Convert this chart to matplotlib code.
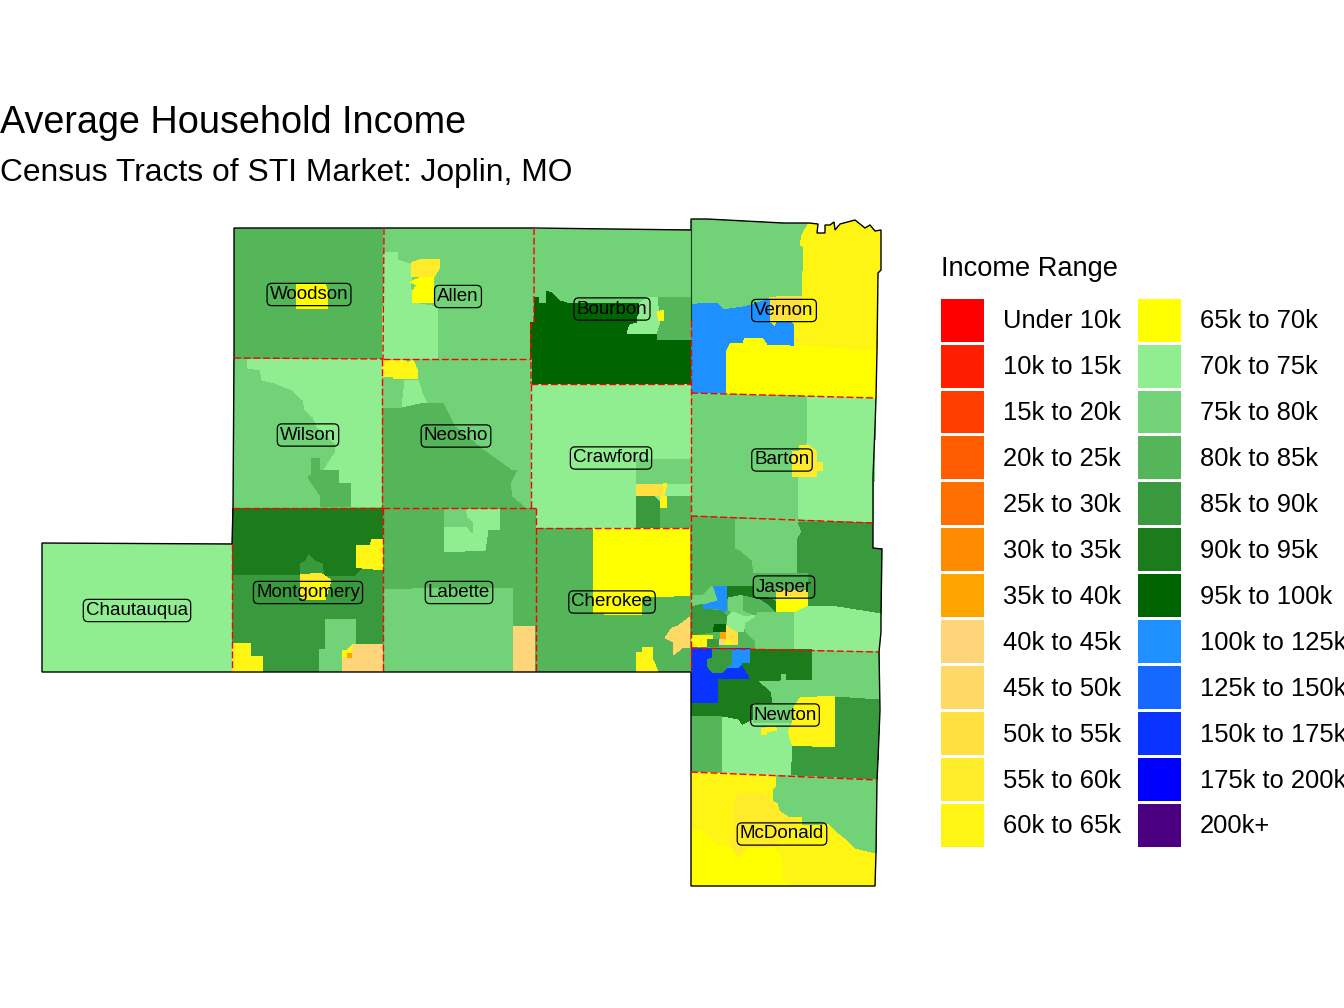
import matplotlib
matplotlib.use("Agg")
import matplotlib.pyplot as plt
from matplotlib.patches import Polygon, Patch

plt.rcParams['font.family'] = ['Liberation Sans', 'DejaVu Sans']

bin_labels = ["Under 10k", "10k to 15k", "15k to 20k", "20k to 25k", "25k to 30k", "30k to 35k",
              "35k to 40k", "40k to 45k", "45k to 50k", "50k to 55k", "55k to 60k", "60k to 65k",
              "65k to 70k", "70k to 75k", "75k to 80k", "80k to 85k", "85k to 90k", "90k to 95k",
              "95k to 100k", "100k to 125k", "125k to 150k", "150k to 175k", "175k to 200k", "200k+"]
bin_colors = ["#FF0000", "#FF1F00", "#FF3E00", "#FF5D00", "#FF6F00", "#FF8C00",
              "#FFA500", "#FFD57A", "#FFD966", "#FFE040", "#FFEB2A", "#FFF514",
              "#FFFF00", "#90EE90", "#72D277", "#55B559", "#39993D", "#1C7C1C",
              "#006400", "#1E90FF", "#1569FF", "#0A33FF", "#0000FF", "#4B0082"]
color_of = dict(zip(bin_labels, bin_colors))

chautauqua = [("70k to 75k", [(42,543),(232,544),(232,672),(42,672)])]
woodson = [
    ("80k to 85k", [(234,228),(384,228),(383,359),(234,358)]),
    ("65k to 70k", [(296,284),(325,284),(328,292),(328,308),(297,309)]),
]
allen = [
    ("75k to 80k", [(384,228),(534,228),(534,322),(531,323),(531,359),(383,359)]),
    ("70k to 75k", [(385,253),(397,252),(398,260),(412,265),(412,277),(410,282),(413,303),(438,307),(438,323),(437,359),(382,359),(384,253)]),
    ("55k to 60k", [(411,263),(422,259),(440,259),(440,267),(434,277),(422,277),(412,277)]),
    ("65k to 70k", [(422,277),(434,277),(434,303),(412,303),(412,292),(417,285),(410,282)]),
]
bourbon = [
    ("75k to 80k", [(534,229),(691,230),(691,384),(531,384),(531,323),(534,322)]),
    ("95k to 100k", [(530,323),(534,322),(534,297),(539,297),(539,303),(546,303),(546,291),(552,293),(560,301),(567,303),(640,303),(637,325),(627,332),(657,334),(657,340),(691,340),(691,384),(530,384)]),
    ("70k to 75k", [(648,297),(658,297),(661,322),(657,334),(627,333),(630,325),(637,323),(640,303)]),
    ("80k to 85k", [(658,297),(691,297),(691,340),(657,340),(657,334),(661,322)]),
    ("60k to 65k", [(657,312),(663,310),(664,321),(659,321)]),
]
vernon = [
    ("75k to 80k", [(691,219),(707,219),(783,223),(809,223),(809,300),(769,340),(691,393)]),
    ("60k to 65k", [(809,223),(818,224),(817,233),(825,233),(825,225),(830,225),(834,222),(835,230),(840,224),(855,220),(860,224),(865,228),(870,225),(875,231),(881,230),(881,270),(878,273),(877,350),(858,350),(858,353),(847,349),(813,347),(794,346),(794,325),(790,322),(777,322),(775,327),(770,323),(769,298),(783,296),(802,296),(804,247),(800,245),(802,235)]),
    ("50k to 55k", [(769,298),(783,296),(802,296),(802,320),(770,320)]),
    ("100k to 125k", [(692,305),(703,303),(717,303),(723,310),(743,307),(752,305),(769,299),(770,323),(775,327),(777,322),(790,322),(794,325),(794,346),(775,345),(767,345),(762,338),(745,338),(743,343),(730,344),(727,350),(726,393),(691,393)]),
    ("65k to 70k", [(730,344),(743,343),(745,338),(762,338),(767,345),(813,347),(847,349),(858,353),(858,350),(877,350),(877,357),(876,398),(847,397),(803,395),(770,395),(726,393),(727,350)]),
]
wilson = [
    ("75k to 80k", [(234,359),(382,359),(382,508),(233,508)]),
    ("70k to 75k", [(247,360),(248,368),(260,370),(262,380),(275,383),(292,390),(303,400),(305,410),(313,417),(317,427),(335,443),(335,453),(324,470),(339,470),(339,483),(351,483),(351,507),(382,507),(382,359)]),
    ("80k to 85k", [(311,458),(320,458),(320,470),(339,470),(339,483),(351,483),(351,507),(320,507),(320,495),(313,485),(308,477),(311,475)]),
]
neosho = [
    ("75k to 80k", [(382,359),(532,359),(531,508),(382,508)]),
    ("60k to 65k", [(382,360),(405,360),(408,363),(413,360),(418,372),(418,379),(393,379),(393,377),(382,377)]),
    ("70k to 75k", [(405,380),(418,380),(422,393),(427,403),(402,408)]),
    ("80k to 85k", [(382,408),(402,408),(425,403),(443,403),(450,417),(455,427),(483,450),(511,470),(517,470),(510,483),(512,497),(525,508),(382,508)]),
]
crawford = [
    ("70k to 75k", [(531,384),(691,384),(691,528),(536,528),(536,508),(531,508)]),
    ("75k to 80k", [(636,459),(691,459),(691,484),(667,484),(636,484)]),
    ("50k to 55k", [(636,484),(667,484),(664,496),(636,496)]),
    ("85k to 90k", [(636,496),(654,496),(660,503),(660,528),(636,528)]),
    ("80k to 85k", [(660,496),(691,496),(691,528),(660,528)]),
    ("60k to 65k", [(661,496),(667,496),(666,508),(660,508)]),
    ("60k to 65k", [(663,483),(667,483),(664,493)]),
]
montgomery = [
    ("85k to 90k", [(233,508),(383,508),(383,672),(232,672)]),
    ("90k to 95k", [(232,508),(383,508),(383,539),(372,539),(370,545),(356,545),(356,568),(362,568),(353,576),(325,576),(323,563),(315,560),(308,553),(305,560),(300,563),(300,575),(232,575)]),
    ("60k to 65k", [(356,545),(370,545),(372,539),(384,539),(384,570),(362,568),(356,568)]),
    ("55k to 60k", [(300,575),(320,573),(331,580),(325,600),(307,600),(300,597)]),
    ("65k to 70k", [(311,580),(325,580),(325,600),(311,600)]),
    ("75k to 80k", [(325,619),(356,619),(356,645),(347,650),(342,650),(342,672),(319,672),(319,649),(325,649)]),
    ("40k to 45k", [(353,644),(383,645),(383,672),(342,672),(343,658),(351,657)]),
    ("60k to 65k", [(342,650),(347,650),(353,644),(351,657),(343,658)]),
    ("35k to 40k", [(347,653),(352,653),(351,658),(348,658)]),
    ("60k to 65k", [(232,643),(251,643),(251,656),(263,656),(263,672),(232,672)]),
]
labette = [
    ("80k to 85k", [(383,508),(536,508),(536,672),(383,672)]),
    ("75k to 80k", [(384,589),(412,589),(425,588),(513,588),(513,672),(384,672)]),
    ("40k to 45k", [(513,626),(535,626),(535,672),(513,672)]),
    ("70k to 75k", [(465,509),(500,509),(500,530),(488,530),(485,550),(445,552),(444,527),(467,526),(472,533),(473,523),(467,518)]),
    ("75k to 80k", [(445,509),(465,509),(467,518),(473,523),(472,533),(467,526),(444,527)]),
]
cherokee = [
    ("80k to 85k", [(536,528),(691,528),(691,672),(536,672)]),
    ("65k to 70k", [(593,528),(690,528),(690,595),(658,597),(642,596),(642,614),(615,615),(593,613)]),
    ("45k to 50k", [(690,617),(690,647),(682,648),(673,655),(673,642),(665,638),(672,628),(678,626)]),
    ("60k to 65k", [(636,653),(642,652),(643,647),(647,648),(653,647),(653,660),(658,672),(636,672)]),
]
barton = [
    ("75k to 80k", [(691,393),(876,398),(873,523),(691,516)]),
    ("70k to 75k", [(807,396),(876,398),(875,427),(873,477),(872,522),(798,520),(798,480),(807,443)]),
    ("55k to 60k", [(799,445),(808,445),(817,452),(817,462),(823,462),(823,471),(817,471),(817,477),(792,477),(792,467),(793,451),(799,451)]),
]
jasper = [
    ("80k to 85k", [(691,516),(873,523),(873,548),(882,549),(881,613),(881,632),(879,652),(691,648)]),
    ("75k to 80k", [(735,519),(798,520),(802,532),(797,540),(797,573),(754,573),(752,560),(740,550),(735,548)]),
    ("85k to 90k", [(798,522),(873,523),(873,548),(882,549),(881,614),(837,607),(808,606),(808,573),(797,573),(797,540),(802,532)]),
    ("90k to 95k", [(727,586),(754,587),(754,597),(767,597),(776,602),(776,612),(770,607),(760,600),(743,596),(735,595),(727,599)]),
    ("65k to 70k", [(776,596),(808,596),(808,612),(776,612)]),
    ("50k to 55k", [(776,590),(808,590),(808,596),(776,596)]),
    ("75k to 80k", [(757,612),(794,612),(794,649),(755,648),(756,623)]),
    ("70k to 75k", [(794,613),(808,606),(837,607),(881,614),(881,632),(879,652),(794,649)]),
    ("100k to 125k", [(712,586),(727,586),(727,610),(722,612),(717,608),(703,609),(703,603),(712,600),(717,600),(712,590)]),
    ("75k to 80k", [(691,595),(703,595),(712,586),(717,600),(703,604),(691,607)]),
    ("85k to 90k", [(691,607),(703,604),(703,609),(722,611),(727,617),(725,625),(715,625),(713,632),(691,635)]),
    ("95k to 100k", [(715,624),(726,625),(726,632),(713,631)]),
    ("35k to 40k", [(720,632),(726,632),(726,639),(720,639)]),
    ("50k to 55k", [(726,625),(738,632),(738,645),(732,645),(730,640),(726,639)]),
    ("40k to 45k", [(719,639),(726,639),(725,645),(718,645)]),
    ("60k to 65k", [(691,636),(713,635),(713,639),(707,640),(707,647),(691,647)]),
    ("60k to 65k", [(725,640),(732,640),(732,645),(725,645)]),
    ("85k to 90k", [(707,639),(719,639),(719,647),(707,647)]),
    ("75k to 80k", [(728,598),(743,595),(743,610),(755,613),(757,617),(740,620),(733,612),(728,610)]),
    ("80k to 85k", [(743,596),(760,600),(770,607),(775,612),(757,612),(755,615),(743,610)]),
    ("70k to 75k", [(733,612),(745,617),(755,615),(750,625),(745,625),(743,632),(738,632),(727,625),(727,617)]),
    ("75k to 80k", [(745,624),(757,617),(755,648),(745,648)]),
    ("80k to 85k", [(738,632),(745,632),(755,643),(755,648),(738,648)]),
]
newton = [
    ("75k to 80k", [(691,648),(879,652),(880,710),(878,760),(877,780),(691,772)]),
    ("150k to 175k", [(691,648),(750,649),(750,663),(742,664),(751,679),(719,679),(718,703),(691,703)]),
    ("85k to 90k", [(712,649),(732,649),(732,665),(727,668),(722,673),(713,673),(708,667),(707,660),(712,658)]),
    ("100k to 125k", [(732,649),(750,649),(750,663),(742,664),(737,668),(727,667),(732,665)]),
    ("90k to 95k", [(750,649),(812,650),(811,680),(787,680),(786,674),(781,674),(780,680),(757,681),(770,692),(772,702),(753,703),(753,720),(742,726),(738,720),(722,717),(691,716),(691,703),(718,703),(719,679),(751,679),(742,664),(750,663)]),
    ("85k to 90k", [(835,697),(879,700),(878,760),(877,780),(790,776),(789,745),(833,747)]),
    ("60k to 65k", [(800,698),(835,696),(835,747),(789,745),(787,733),(792,723),(792,710)]),
    ("70k to 75k", [(722,717),(738,720),(742,726),(753,720),(753,723),(790,723),(787,733),(792,747),(790,776),(722,772)]),
    ("80k to 85k", [(691,716),(722,717),(722,772),(691,772)]),
    ("60k to 65k", [(761,729),(775,726),(777,730),(767,732),(766,735),(761,735)]),
]
mcdonald = [
    ("60k to 65k", [(691,772),(877,780),(875,886),(691,886)]),
    ("75k to 80k", [(776,775),(877,780),(876,853),(855,848),(845,838),(835,830),(828,823),(817,825),(802,825),(802,817),(788,817),(780,810),(778,803),(773,800),(773,790),(776,787)]),
    ("65k to 70k", [(691,830),(703,830),(707,838),(717,846),(730,845),(738,857),(747,848),(773,847),(782,860),(782,877),(788,886),(691,886)]),
    ("55k to 60k", [(738,793),(762,793),(773,803),(780,812),(788,817),(798,820),(780,840),(773,847),(747,848),(738,857),(730,845),(735,827),(733,813)]),
]
all_counties = [chautauqua, woodson, allen, bourbon, wilson, neosho, crawford, montgomery,
                labette, cherokee, barton, jasper, newton, mcdonald, vernon]

market_outline = [(234,228),(384,228),(534,228),(691,230),(691,219),(707,219),(783,223),(809,223),(818,224),(817,233),(825,233),
                  (825,225),(830,225),(834,222),(835,230),(840,224),(855,220),(860,224),(865,228),(870,225),(875,231),(881,230),
                  (881,270),(878,273),(877,350),(876,398),(875,427),(873,477),(873,523),(873,548),(882,549),(881,613),(881,632),
                  (879,652),(880,710),(878,760),(877,780),(876,853),(875,886),(691,886),(691,672),(42,672),(42,543),(232,544),
                  (233,508),(234,358)]
county_borders = [
    [(384,228),(383,359)], [(234,358),(383,359)], [(534,228),(534,322),(531,323),(531,384)],
    [(383,359),(531,359)], [(382,359),(382,508)], [(233,508),(383,508)], [(383,508),(536,508)],
    [(531,384),(531,508)], [(536,508),(536,672)], [(536,528),(691,528)], [(531,384),(691,384)],
    [(691,320),(691,672)], [(691,393),(876,398)], [(691,516),(873,523)], [(691,648),(879,652)],
    [(691,772),(877,780)], [(383,508),(383,672)], [(232,544),(232,672)],
]

county_names = ["Woodson", "Allen", "Bourbon", "Vernon", "Wilson", "Neosho", "Crawford", "Barton",
                "Chautauqua", "Montgomery", "Labette", "Cherokee", "Jasper", "Newton", "McDonald"]
label_x = [309, 458, 612, 784, 308, 456, 611, 782, 137, 308, 459, 612, 784, 785, 782]
label_y = [294.5, 296.5, 309, 310.5, 435, 436, 458, 460, 610.5, 592.5, 592.5, 602, 587, 715, 834]

fig = plt.figure(figsize=(13.44, 10.08), dpi=100, facecolor="white")
ax = fig.add_axes([0, 0, 1, 1])
ax.set_xlim(0, 1344)
ax.set_ylim(1008, 0)
ax.axis("off")

for county in all_counties:
    for income_bin, outline in county:
        ax.add_patch(Polygon(outline, closed=True, facecolor=color_of[income_bin],
                             edgecolor="none", linewidth=0, antialiased=False))

ax.plot([691, 691], [219, 320], color="#1a3d1a", lw=0.8)
ax.add_patch(Polygon(market_outline, closed=True, fill=False, edgecolor="black", linewidth=1.0))
for border in county_borders:
    ax.plot([p[0] for p in border], [p[1] for p in border], color="#FF0000", lw=1.0,
            linestyle=(0, (5, 2)))

for name, x, y in zip(county_names, label_x, label_y):
    ax.text(x, y, name, fontsize=13.5, color="black", ha="center", va="center",
            bbox=dict(boxstyle="round,pad=0.14,rounding_size=0.25", facecolor="none",
                      edgecolor="black", linewidth=0.9))

ax.text(0, 123, "Average Household Income", fontsize=27.2, color="black", ha="left", va="center")
ax.text(0, 173, "Census Tracts of STI Market: Joplin, MO", fontsize=22.9, color="black", ha="left", va="center")

handles = [Patch(facecolor=c, edgecolor="none", label=l) for l, c in zip(bin_labels, bin_colors)]
fs_px = 18.4 * 100 / 72
leg = fig.legend(handles=handles, ncol=2, loc="upper left", bbox_to_anchor=(941 / 1344, 1 - 256 / 1008),
                 frameon=False, fontsize=18.4, title="Income Range", title_fontsize=19.6,
                 alignment="left", borderpad=0, borderaxespad=0,
                 handlelength=43 / fs_px, handleheight=2.208, labelspacing=3 / fs_px,
                 handletextpad=19 / fs_px, columnspacing=17 / fs_px)
leg._legend_box.sep = 12

fig.savefig("out.png", dpi=100)
